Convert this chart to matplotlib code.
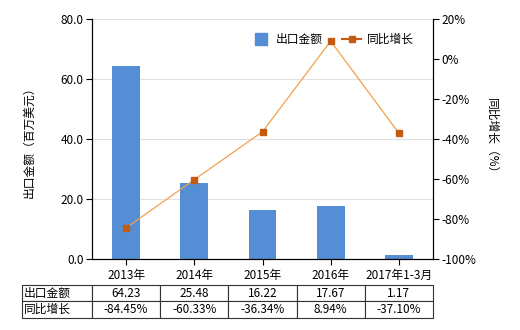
import matplotlib
matplotlib.use("Agg")
import matplotlib.pyplot as plt
from matplotlib.lines import Line2D

plt.rcParams['font.family'] = ['Noto Sans CJK SC', 'DejaVu Sans']
plt.rcParams['font.size'] = 8.5

categories = ['2013年', '2014年', '2015年', '2016年', '2017年1-3月']
export_value = [64.23, 25.48, 16.22, 17.67, 1.17]
yoy_growth = [-84.45, -60.33, -36.34, 8.94, -37.10]
value_labels = ['64.23', '25.48', '16.22', '17.67', '1.17']
growth_labels = ['-84.45%', '-60.33%', '-36.34%', '8.94%', '-37.10%']

bar_color = '#558ED5'
line_color = '#F0A050'
marker_color = '#C55A11'

fig = plt.figure(figsize=(5.2, 3.3), dpi=100)
ax = fig.add_axes([92/520, 71/330, 341/520, 240/330])
x = list(range(len(categories)))

ax.bar(x, export_value, width=0.41, color=bar_color, zorder=2)
ax.set_xlim(-0.5, len(categories) - 0.5)
ax.set_ylim(0, 80)
ax.set_yticks([0, 20, 40, 60, 80])
ax.set_yticklabels(['0.0', '20.0', '40.0', '60.0', '80.0'])
ax.set_xticks(x)
ax.set_xticklabels(categories)
ax.grid(axis='y', color='#E0E0E0', linewidth=0.8, zorder=0)
ax.spines['top'].set_visible(False)
ax.tick_params(direction='out', length=4, pad=2)
ax.tick_params(axis='x', pad=3)
ax.set_ylabel('出口金额（百万美元）', labelpad=18)

ax2 = ax.twinx()
ax2.plot(x, yoy_growth, color=line_color, linewidth=0.9, marker='s', markersize=5,
         markerfacecolor=marker_color, markeredgecolor=marker_color, zorder=3)
ax2.set_ylim(-100, 20)
ax2.set_yticks(range(-100, 21, 20))
ax2.set_yticklabels([f'{v}%' for v in range(-100, 21, 20)])
ax2.spines['top'].set_visible(False)
ax2.tick_params(direction='out', length=4, pad=2)
ax2.set_ylabel('同比增长（%）', rotation=270, labelpad=16)

handles = [
    Line2D([], [], linestyle='none', marker='s', markersize=9, color=bar_color),
    Line2D([], [], color=marker_color, linewidth=1.5, marker='s', markersize=4),
]
ax2.legend(handles, ['出口金额', '同比增长'], loc='upper right', bbox_to_anchor=(0.975, 0.985), ncol=2,
           frameon=False, handlelength=1.6, columnspacing=1.6, handletextpad=0.5, fontsize=8.5)

# data table under the chart
row_labels = ['出口金额', '同比增长']
cell_text = [[r] + c for r, c in zip(row_labels, [value_labels, growth_labels])]
first_w = 70 / 341
other_w = 1.0 / len(categories)
tab = ax.table(cellText=cell_text, cellLoc='center', bbox=[-first_w, -0.246, 1 + first_w, 0.138])
tab.auto_set_font_size(False)
tab.set_fontsize(8.5)
for (r, c), cell in tab.get_celld().items():
    cell.set_linewidth(0.8)
    cell.set_edgecolor('#333333')
    cell.set_width(first_w / (1 + first_w) if c == 0 else other_w / (1 + first_w))
    if c == 0:
        cell._loc = 'left'
        cell.PAD = 0.03
        cell.get_text().set_ha('left')

fig.savefig('out.png', dpi=100)
